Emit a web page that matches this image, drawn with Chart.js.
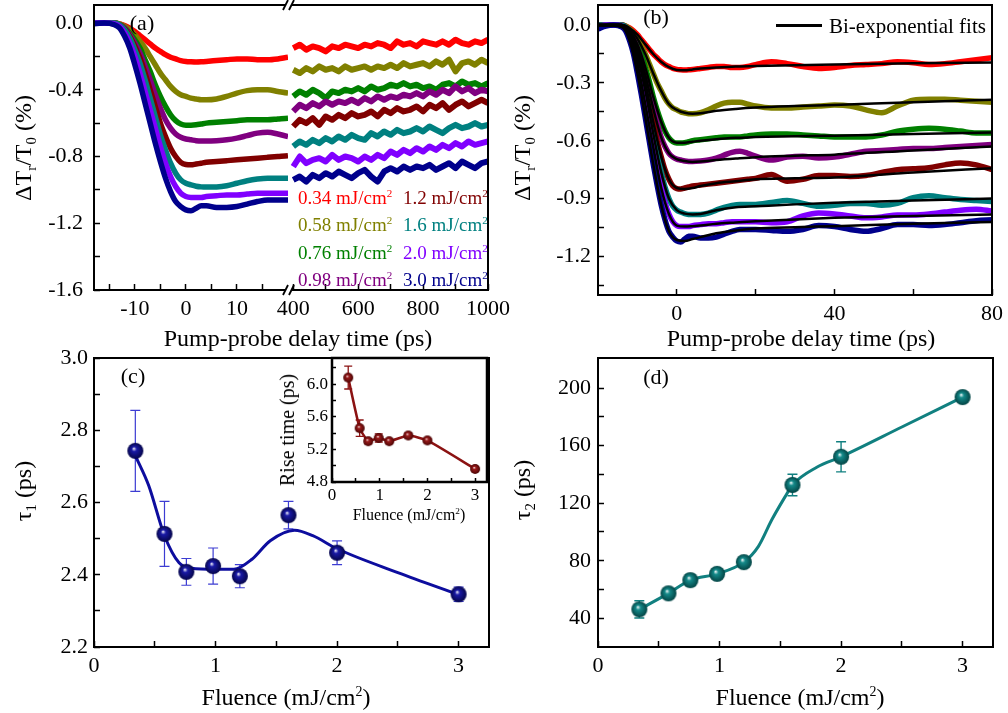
<!DOCTYPE html>
<html>
<head>
<meta charset="utf-8">
<script src="https://cdn.jsdelivr.net/npm/chart.js@4.4.1/dist/chart.umd.min.js"></script>
<style>
  body { margin: 0; background: #fff; }
  #page { position: relative; width: 1008px; height: 713px; overflow: hidden; font-family: 'Liberation Serif', 'Times New Roman', serif; }
  canvas { position: absolute; left: 0; top: 0; }
  .t { position: absolute; white-space: nowrap; line-height: 1; transform: translate(-50%, -50%); }
  .t.v { transform: translate(-50%, -50%) rotate(-90deg); }
  .t.l { transform: translate(0, -50%); }
  .t sub { font-size: 0.62em; vertical-align: -0.32em; }
  .t sup { font-size: 0.58em; vertical-align: 0.62em; }
  .key { position: absolute; height: 3px; background: #000; }
</style>
</head>
<body>
<div id="page">
  <canvas id="aLeft" width="1008" height="713"></canvas>
  <canvas id="aRight" width="1008" height="713"></canvas>
  <canvas id="b" width="1008" height="713"></canvas>
  <canvas id="c" width="1008" height="713"></canvas>
  <canvas id="cInset" width="1008" height="713"></canvas>
  <canvas id="d" width="1008" height="713"></canvas>
</div>
<script>
// pump fluences (mJ/cm2)
const fluence = [0.34, 0.58, 0.76, 0.98, 1.2, 1.6, 2.0, 3.0];
const fluenceText = ['0.34', '0.58', '0.76', '0.98', '1.2', '1.6', '2.0', '3.0'];

// transient reflectivity, short delays (ps) and dTr/T0 (%)
const delay = [-20, -18, -16, -14, -13, -12, -11, -10, -9, -8, -7, -6, -5, -4, -3, -2, -1, 0, 1, 2, 3, 4,
  6, 8, 10, 12, 14, 16, 18, 20, 24, 28, 32, 36, 40, 44, 48, 52, 56, 60, 64, 68, 72, 76, 80];
const tr034 = [0, 0, 0, 0, -0.005, -0.015, -0.03, -0.05, -0.075, -0.10, -0.125, -0.15, -0.17, -0.19, -0.205, -0.215, -0.225, -0.23, -0.232, -0.233, -0.232, -0.23,
  -0.225, -0.22, -0.215, -0.215, -0.22, -0.22, -0.215, -0.205, -0.19, -0.20, -0.215, -0.225, -0.22, -0.21, -0.205, -0.20, -0.19, -0.195, -0.205, -0.20, -0.19, -0.18, -0.17];
const tr058 = [0, 0, 0, 0, -0.005, -0.02, -0.04, -0.07, -0.11, -0.15, -0.20, -0.25, -0.30, -0.34, -0.38, -0.41, -0.43, -0.44, -0.45, -0.455, -0.46, -0.46,
  -0.455, -0.44, -0.42, -0.405, -0.40, -0.40, -0.41, -0.42, -0.43, -0.43, -0.425, -0.42, -0.415, -0.42, -0.44, -0.455, -0.42, -0.39, -0.385, -0.385, -0.39, -0.395, -0.40];
const tr076 = [0, 0, 0, 0, -0.01, -0.03, -0.06, -0.10, -0.15, -0.22, -0.29, -0.37, -0.44, -0.50, -0.55, -0.585, -0.605, -0.612, -0.612, -0.61, -0.605, -0.60,
  -0.595, -0.59, -0.585, -0.58, -0.58, -0.58, -0.575, -0.57, -0.565, -0.565, -0.57, -0.575, -0.58, -0.58, -0.58, -0.57, -0.55, -0.54, -0.535, -0.54, -0.55, -0.56, -0.56];
const tr098 = [0, 0, 0, 0, -0.01, -0.03, -0.07, -0.12, -0.18, -0.26, -0.34, -0.43, -0.51, -0.58, -0.63, -0.665, -0.685, -0.695, -0.70, -0.705, -0.707, -0.707,
  -0.705, -0.70, -0.69, -0.675, -0.66, -0.655, -0.665, -0.68, -0.70, -0.685, -0.68, -0.69, -0.685, -0.67, -0.655, -0.65, -0.645, -0.64, -0.64, -0.635, -0.63, -0.625, -0.62];
const tr12 = [0, 0, 0, 0, -0.01, -0.035, -0.08, -0.14, -0.21, -0.30, -0.40, -0.50, -0.60, -0.68, -0.75, -0.80, -0.835, -0.848, -0.85, -0.845, -0.84, -0.835,
  -0.83, -0.825, -0.82, -0.815, -0.81, -0.805, -0.80, -0.795, -0.775, -0.81, -0.80, -0.78, -0.78, -0.785, -0.78, -0.765, -0.75, -0.745, -0.74, -0.725, -0.715, -0.725, -0.75];
const tr16 = [0, 0, 0, 0, -0.01, -0.04, -0.09, -0.16, -0.24, -0.34, -0.45, -0.56, -0.67, -0.76, -0.84, -0.90, -0.94, -0.96, -0.97, -0.978, -0.982, -0.983,
  -0.982, -0.975, -0.96, -0.945, -0.935, -0.93, -0.93, -0.93, -0.92, -0.91, -0.925, -0.94, -0.935, -0.925, -0.925, -0.935, -0.925, -0.895, -0.885, -0.895, -0.905, -0.91, -0.915];
const tr20 = [-0.01, 0, 0, -0.005, -0.02, -0.06, -0.12, -0.20, -0.30, -0.41, -0.52, -0.63, -0.74, -0.84, -0.92, -0.98, -1.02, -1.04, -1.045, -1.045, -1.045, -1.04,
  -1.035, -1.03, -1.03, -1.025, -1.02, -1.02, -1.02, -1.02, -1.025, -1.02, -0.99, -0.975, -0.98, -0.99, -1.0, -0.995, -0.985, -0.985, -0.98, -0.97, -0.96, -0.955, -0.965];
const tr30 = [-0.02, -0.005, 0, -0.01, -0.03, -0.08, -0.15, -0.25, -0.36, -0.48, -0.60, -0.72, -0.83, -0.93, -1.01, -1.07, -1.10, -1.12, -1.125, -1.11, -1.095, -1.095,
  -1.105, -1.105, -1.10, -1.085, -1.07, -1.06, -1.06, -1.06, -1.065, -1.07, -1.06, -1.04, -1.045, -1.06, -1.07, -1.055, -1.035, -1.035, -1.04, -1.035, -1.025, -1.015, -1.01];

// bi-exponential fits
const fitDelay = [-20, -14, -12, -10, -8, -6, -4, -2, 0, 2, 4, 6, 10, 15, 20, 30, 40, 60, 80];
const fit034 = [0, 0, -0.015, -0.05, -0.10, -0.15, -0.19, -0.218, -0.233, -0.235, -0.23, -0.225, -0.22, -0.215, -0.212, -0.208, -0.204, -0.198, -0.194];
const fit058 = [0, 0, -0.02, -0.07, -0.15, -0.25, -0.34, -0.41, -0.44, -0.455, -0.46, -0.458, -0.445, -0.435, -0.428, -0.42, -0.414, -0.40, -0.388];
const fit076 = [0, 0, -0.03, -0.10, -0.22, -0.37, -0.50, -0.585, -0.61, -0.61, -0.605, -0.60, -0.592, -0.585, -0.58, -0.577, -0.574, -0.565, -0.557];
const fit098 = [0, 0, -0.03, -0.12, -0.26, -0.43, -0.58, -0.665, -0.695, -0.705, -0.71, -0.708, -0.70, -0.692, -0.685, -0.678, -0.672, -0.65, -0.63];
const fit12 = [0, 0, -0.035, -0.14, -0.30, -0.50, -0.68, -0.80, -0.845, -0.85, -0.845, -0.835, -0.82, -0.81, -0.80, -0.795, -0.79, -0.765, -0.742];
const fit16 = [0, 0, -0.04, -0.16, -0.34, -0.56, -0.76, -0.90, -0.96, -0.978, -0.982, -0.98, -0.96, -0.945, -0.94, -0.93, -0.922, -0.91, -0.90];
const fit20 = [0, -0.005, -0.06, -0.20, -0.41, -0.63, -0.84, -0.98, -1.04, -1.045, -1.043, -1.04, -1.03, -1.024, -1.018, -1.008, -1.0, -0.99, -0.983];
const fit30 = [0, -0.01, -0.08, -0.25, -0.48, -0.72, -0.93, -1.07, -1.115, -1.12, -1.11, -1.10, -1.08, -1.065, -1.055, -1.048, -1.043, -1.03, -1.022];

// long delays (ps)
const delayLong = [400, 420, 440, 460, 480, 500, 520, 540, 560, 580, 600, 620, 640, 660, 680, 700, 720, 740, 760, 780, 800, 820, 840, 860, 880, 900, 920, 940, 960, 980, 1000];
const long034 = [-0.15, -0.13, -0.16, -0.14, -0.15, -0.17, -0.14, -0.15, -0.13, -0.14, -0.15, -0.13, -0.14, -0.12, -0.13, -0.15, -0.11, -0.13, -0.12, -0.14, -0.11, -0.12, -0.13, -0.11, -0.13, -0.10, -0.12, -0.13, -0.11, -0.12, -0.10];
const long058 = [-0.28, -0.30, -0.27, -0.29, -0.26, -0.28, -0.27, -0.29, -0.26, -0.28, -0.27, -0.26, -0.28, -0.26, -0.27, -0.25, -0.27, -0.24, -0.26, -0.25, -0.24, -0.26, -0.23, -0.25, -0.22, -0.29, -0.24, -0.23, -0.25, -0.22, -0.24];
const long076 = [-0.44, -0.41, -0.43, -0.40, -0.42, -0.45, -0.41, -0.42, -0.40, -0.41, -0.39, -0.41, -0.38, -0.40, -0.39, -0.37, -0.38, -0.36, -0.38, -0.37, -0.39, -0.38, -0.40, -0.37, -0.36, -0.38, -0.35, -0.37, -0.36, -0.38, -0.36];
const long098 = [-0.53, -0.49, -0.51, -0.48, -0.50, -0.47, -0.49, -0.47, -0.48, -0.46, -0.48, -0.45, -0.47, -0.44, -0.46, -0.44, -0.45, -0.43, -0.44, -0.42, -0.44, -0.41, -0.43, -0.40, -0.42, -0.38, -0.41, -0.39, -0.42, -0.40, -0.41];
const long12 = [-0.62, -0.58, -0.60, -0.57, -0.61, -0.56, -0.58, -0.55, -0.57, -0.54, -0.56, -0.55, -0.53, -0.56, -0.52, -0.54, -0.51, -0.53, -0.52, -0.50, -0.53, -0.49, -0.51, -0.48, -0.52, -0.49, -0.47, -0.50, -0.48, -0.46, -0.48];
const long16 = [-0.74, -0.71, -0.73, -0.70, -0.72, -0.69, -0.71, -0.68, -0.70, -0.67, -0.69, -0.70, -0.66, -0.68, -0.65, -0.67, -0.64, -0.66, -0.65, -0.63, -0.65, -0.62, -0.64, -0.66, -0.63, -0.61, -0.63, -0.62, -0.60, -0.62, -0.61];
const long20 = [-0.86, -0.80, -0.84, -0.82, -0.81, -0.83, -0.79, -0.82, -0.80, -0.81, -0.83, -0.80, -0.82, -0.79, -0.81, -0.77, -0.79, -0.76, -0.78, -0.75, -0.77, -0.74, -0.76, -0.73, -0.75, -0.72, -0.74, -0.71, -0.73, -0.72, -0.71];
const long30 = [-0.94, -0.92, -0.95, -0.91, -0.93, -0.90, -0.92, -0.89, -0.91, -0.93, -0.90, -0.88, -0.92, -0.95, -0.89, -0.87, -0.89, -0.86, -0.88, -0.86, -0.87, -0.85, -0.88, -0.86, -0.84, -0.87, -0.83, -0.85, -0.87, -0.84, -0.83];

// fitted time constants vs fluence
const tau1 = [2.743, 2.513, 2.408, 2.424, 2.396, 2.565, 2.461, 2.346];
const tau1Err = [0.112, 0.09, 0.037, 0.05, 0.032, 0.038, 0.033, 0.02];
const tau1CurveX = [0.34, 0.45, 0.58, 0.7, 0.8, 1.0, 1.15, 1.3, 1.45, 1.65, 1.8, 2.0, 2.5, 3.0];
const tau1CurveY = [2.73, 2.647, 2.508, 2.433, 2.418, 2.415, 2.415, 2.443, 2.494, 2.523, 2.508, 2.472, 2.406, 2.345];
const riseTime = [6.08, 5.46, 5.30, 5.34, 5.30, 5.37, 5.31, 4.96];
const riseErr = [0.14, 0.10, 0.03, 0.05, 0.02, 0.03, 0.02, 0.01];
const tau2 = [46.2, 57.3, 66.5, 70.9, 79, 132.7, 152.3, 193.8];
const tau2Err = [6, 3, 4, 2.5, 2, 7.5, 10.5, 2];
const tau2CurveX = [0.34, 0.58, 0.76, 0.98, 1.2, 1.32, 1.43, 1.54, 1.6, 1.8, 2.0, 2.5, 3.0];
const tau2CurveY = [46.2, 57.3, 66.5, 70.9, 79, 90, 108.5, 124.6, 132.7, 145, 152.3, 173, 193.8];

// axis ticks (major labelled, minor unlabelled)
const delayTicks = [-10, 0, 10], delayMinor = [-15, -5, 5, 15];
const longTicks = [400, 600, 800, 1000], longMinor = [500, 700, 900];
const dTaTicks = [-1.6, -1.2, -0.8, -0.4, 0], dTaMinor = [-1.4, -1.0, -0.6, -0.2];
const delayBTicks = [0, 40, 80], delayBMinor = [20, 60];
const dTbTicks = [-1.2, -0.9, -0.6, -0.3, 0], dTbMinor = [-1.35, -1.05, -0.75, -0.45, -0.15];
const fluenceTicks = [0, 1, 2, 3], fluenceMinor = [0.5, 1.5, 2.5];
const tau1Ticks = [2.2, 2.4, 2.6, 2.8, 3.0], tau1Minor = [2.3, 2.5, 2.7, 2.9];
const riseTicks = [4.8, 5.2, 5.6, 6.0], riseMinor = [5.0, 5.4, 5.8, 6.2];
const tau2Ticks = [40, 80, 120, 160, 200], tau2Minor = [60, 100, 140, 180];

const traces = [tr034, tr058, tr076, tr098, tr12, tr16, tr20, tr30];
const fits = [fit034, fit058, fit076, fit098, fit12, fit16, fit20, fit30];
const longTraces = [long034, long058, long076, long098, long12, long16, long20, long30];
const colors = ['#ff0000', '#808000', '#008000', '#800080', '#800000', '#008080', '#8000ff', '#00008c'];

Chart.defaults.font.family = "'Liberation Serif', 'Times New Roman', serif";
Chart.defaults.color = '#000';

const xy = (xs, ys) => xs.map((x, i) => ({ x, y: ys[i] }));
const isMajor = (list, v) => list.some(m => Math.abs(m - v) < 1e-9);

// box around the plot area, side by side
const framePlugin = {
  id: 'frame',
  beforeDraw(chart, args, o) {
    if (!o.fill) return;
    const a = chart.chartArea;
    chart.ctx.save();
    chart.ctx.fillStyle = o.fill;
    chart.ctx.fillRect(a.left, a.top, a.right - a.left, a.bottom - a.top);
    chart.ctx.restore();
  },
  afterDraw(chart, args, o) {
    if (!o.sides) return;
    const { left, top, right, bottom } = chart.chartArea;
    const ctx = chart.ctx;
    ctx.save();
    ctx.strokeStyle = '#000';
    ctx.lineWidth = o.width || 2;
    ctx.lineCap = 'square';
    ctx.beginPath();
    if (o.sides.includes('t')) { ctx.moveTo(left, top); ctx.lineTo(right, top); }
    if (o.sides.includes('b')) { ctx.moveTo(left, bottom); ctx.lineTo(right, bottom); }
    if (o.sides.includes('l')) { ctx.moveTo(left, top); ctx.lineTo(left, bottom); }
    if (o.sides.includes('r')) { ctx.moveTo(right, top); ctx.lineTo(right, bottom); }
    ctx.stroke();
    ctx.restore();
  }
};

// "//" marks where the delay axis is broken
const breakPlugin = {
  id: 'axisBreak',
  afterDraw(chart, args, o) {
    if (!o.show) return;
    const { left, top, bottom } = chart.chartArea;
    const ctx = chart.ctx;
    ctx.save();
    [top, bottom].forEach(y => {
      ctx.fillStyle = '#fff';
      ctx.fillRect(left - 4, y - 2, 6, 4);
      ctx.strokeStyle = '#000';
      ctx.lineWidth = 1.8;
      ctx.beginPath();
      ctx.moveTo(left - 7, y + 5); ctx.lineTo(left - 2, y - 5);
      ctx.moveTo(left - 1, y + 5); ctx.lineTo(left + 4, y - 5);
      ctx.stroke();
    });
    ctx.restore();
  }
};

// vertical error bars with caps
const errorPlugin = {
  id: 'errorBars',
  beforeDatasetsDraw(chart, args, o) {
    if (!o.errors) return;
    const ctx = chart.ctx;
    const ys = chart.scales.y, xs = chart.scales.x;
    const pts = chart.data.datasets[o.dataset].data;
    ctx.save();
    ctx.strokeStyle = o.color;
    ctx.lineWidth = o.width;
    ctx.beginPath();
    pts.forEach((p, i) => {
      const x = xs.getPixelForValue(p.x);
      const y1 = ys.getPixelForValue(p.y + o.errors[i]);
      const y2 = ys.getPixelForValue(p.y - o.errors[i]);
      ctx.moveTo(x, y1); ctx.lineTo(x, y2);
      ctx.moveTo(x - o.cap, y1); ctx.lineTo(x + o.cap, y1);
      ctx.moveTo(x - o.cap, y2); ctx.lineTo(x + o.cap, y2);
    });
    ctx.stroke();
    ctx.restore();
  }
};

Chart.register(framePlugin, breakPlugin, errorPlugin);

function axis(o) {
  return {
    type: 'linear', min: o.min, max: o.max, display: o.display !== false,
    afterBuildTicks: s => { s.ticks = o.major.concat(o.minor).sort((a, b) => a - b).map(v => ({ value: v })); },
    afterFit: s => {
      if (s.isHorizontal()) s.height = o.fit; else s.width = o.fit;
      s.paddingLeft = s.paddingRight = s.paddingTop = s.paddingBottom = 0;
    },
    ticks: {
      autoSkip: false, maxRotation: 0, padding: o.pad, font: { size: o.size || 22 }, color: '#000',
      callback: v => isMajor(o.major, v) ? o.fmt(v) : ''
    },
    grid: { drawOnChartArea: false, drawTicks: true, tickLength: o.tick || -6, tickColor: '#000', tickWidth: 1.5 },
    border: { display: false }
  };
}

function plot(id, box, yW, xH, scales, datasets, plugins) {
  return new Chart(document.getElementById(id), {
    type: 'line',
    data: { datasets },
    options: {
      responsive: false, animation: false, devicePixelRatio: 1, events: [],
      layout: { padding: { left: box.l - yW, top: box.t, right: 1008 - box.r, bottom: 713 - box.b - xH } },
      scales,
      plugins: Object.assign({ legend: { display: false }, tooltip: { enabled: false } }, plugins)
    }
  });
}

function sphere(base, dark, r) {
  const c = document.createElement('canvas');
  const s = 2 * r + 2;
  c.width = c.height = s;
  const g = c.getContext('2d');
  const m = s / 2;
  const grad = g.createRadialGradient(m - r * 0.2, m - r * 0.3, 0, m, m, r);
  grad.addColorStop(0, '#ffffff');
  grad.addColorStop(0.3, base);
  grad.addColorStop(1, dark);
  g.fillStyle = grad;
  g.beginPath();
  g.arc(m, m, r, 0, Math.PI * 2);
  g.fill();
  return c;
}

const f1 = v => v.toFixed(1);
const f0 = v => String(Math.round(v));

// (a) short delays
plot('aLeft', { l: 94, t: 5, r: 288, b: 290 }, 94, 40, {
  x: axis({ min: -18, max: 20, major: delayTicks, minor: delayMinor, fmt: f0, fit: 40, pad: 12 }),
  y: axis({ min: -1.6, max: 0.108, major: dTaTicks, minor: dTaMinor, fmt: f1, fit: 94, pad: 17 })
}, traces.map((arr, i) => ({
  data: xy(delay, arr), borderColor: colors[i], borderWidth: 5.5, pointRadius: 0,
  cubicInterpolationMode: 'monotone', order: 7 - i
})), { frame: { sides: 'tlb', width: 2 } });

// (a) long delays
plot('aRight', { l: 290, t: 5, r: 488, b: 290 }, 0, 40, {
  x: axis({ min: 390, max: 1000, major: longTicks, minor: longMinor, fmt: f0, fit: 40, pad: 12 }),
  y: { type: 'linear', display: false, min: -1.6, max: 0.108 }
}, longTraces.map((arr, i) => ({
  data: xy(delayLong, arr), borderColor: colors[i], borderWidth: 6, pointRadius: 0,
  tension: 0, borderJoinStyle: 'round', order: 7 - i
})), { frame: { sides: 'trb', width: 2 }, axisBreak: { show: true } });

// (b) data with bi-exponential fits
plot('b', { l: 598, t: 5, r: 992, b: 295 }, 80, 40, {
  x: axis({ min: -20, max: 80, major: delayBTicks, minor: delayBMinor, fmt: f0, fit: 40, pad: 12 }),
  y: axis({ min: -1.4, max: 0.104, major: dTbTicks, minor: dTbMinor, fmt: f1, fit: 80, pad: 13 })
}, traces.map((arr, i) => ({
  data: xy(delay, arr), borderColor: colors[i], borderWidth: 5.5, pointRadius: 0,
  cubicInterpolationMode: 'monotone', order: 8 - i
})).concat(fits.map(arr => ({
  data: xy(fitDelay, arr), borderColor: '#000', borderWidth: 2.5, pointRadius: 0,
  cubicInterpolationMode: 'monotone', order: 0
}))), { frame: { sides: 'tlbr', width: 2 } });

// (c) tau1
plot('c', { l: 94, t: 358, r: 489, b: 647 }, 94, 40, {
  x: axis({ min: 0, max: 3.25, major: fluenceTicks, minor: fluenceMinor, fmt: f0, fit: 40, pad: 12 }),
  y: axis({ min: 2.2, max: 3.0, major: tau1Ticks, minor: tau1Minor, fmt: f1, fit: 94, pad: 12 })
}, [
  { data: xy(tau1CurveX, tau1CurveY), borderColor: '#0d0d9e', borderWidth: 3, pointRadius: 0, cubicInterpolationMode: 'monotone', order: 1 },
  { data: xy(fluence, tau1), showLine: false, pointStyle: sphere('#1a1aa6', '#05054a', 8), pointRadius: 8, order: 0 }
], { frame: { sides: 'tlbr', width: 2 }, errorBars: { dataset: 1, errors: tau1Err, color: '#3c3cd2', width: 1.2, cap: 5 } });

// (c) inset: rise time
plot('cInset', { l: 332, t: 358, r: 487, b: 482 }, 60, 26, {
  x: axis({ min: 0, max: 3.25, major: fluenceTicks, minor: fluenceMinor, fmt: f0, fit: 26, pad: 7, size: 17, tick: -4 }),
  y: axis({ min: 4.8, max: 6.32, major: riseTicks, minor: riseMinor, fmt: f1, fit: 60, pad: 8, size: 17, tick: -4 })
}, [
  { data: xy(fluence, riseTime), borderColor: '#8b1212', borderWidth: 2.5, pointStyle: sphere('#9a1a1a', '#4a0505', 5),
    pointRadius: 5, tension: 0.15 }
], { frame: { sides: 'tlbr', width: 2.5, fill: '#fff' }, errorBars: { dataset: 0, errors: riseErr, color: '#8b1212', width: 1.3, cap: 4 } });

// (d) tau2
plot('d', { l: 598, t: 358, r: 993, b: 647 }, 80, 40, {
  x: axis({ min: 0, max: 3.25, major: fluenceTicks, minor: fluenceMinor, fmt: f0, fit: 40, pad: 12 }),
  y: axis({ min: 20, max: 221, major: tau2Ticks, minor: tau2Minor, fmt: f0, fit: 80, pad: 13 })
}, [
  { data: xy(tau2CurveX, tau2CurveY), borderColor: '#118080', borderWidth: 3, pointRadius: 0, cubicInterpolationMode: 'monotone', order: 1 },
  { data: xy(fluence, tau2), showLine: false, pointStyle: sphere('#148a8a', '#034444', 8), pointRadius: 8, order: 0 }
], { frame: { sides: 'tlbr', width: 2 }, errorBars: { dataset: 1, errors: tau2Err, color: '#118080', width: 1.4, cap: 5 } });

// titles, panel letters and keys
const page = document.getElementById('page');
function put(html, x, y, size, cls, color) {
  const d = document.createElement('div');
  d.className = 't' + (cls ? ' ' + cls : '');
  d.style.left = x + 'px';
  d.style.top = y + 'px';
  d.style.fontSize = size + 'px';
  if (color) d.style.color = color;
  d.innerHTML = html;
  page.appendChild(d);
}

const dTTitle = '&Delta;T<sub>r</sub>/T<sub>0</sub> (%)';
const fluenceTitle = 'Fluence (mJ/cm<sup>2</sup>)';
put(dTTitle, 25, 148, 24, 'v');
put(dTTitle, 524, 148, 24, 'v');
put('Pump-probe delay time (ps)', 298, 338, 24);
put('Pump-probe delay time (ps)', 801, 338, 24);
put('&tau;<sub>1</sub> (ps)', 25, 491, 24, 'v');
put('&tau;<sub>2</sub> (ps)', 524, 490, 24, 'v');
put(fluenceTitle, 286, 697, 24);
put(fluenceTitle, 800, 697, 24);
put('Rise time (ps)', 287, 430, 20, 'v');
put(fluenceTitle, 409, 515, 16);
put('(a)', 142, 23, 22);
put('(b)', 656, 17, 22);
put('(c)', 133, 376, 22);
put('(d)', 656, 377, 22);

// fit key in (b)
const keyLine = document.createElement('div');
keyLine.className = 'key';
keyLine.style.left = '776px';
keyLine.style.top = '24px';
keyLine.style.width = '46px';
page.appendChild(keyLine);
put('Bi-exponential fits', 829, 26, 21, 'l');

// fluence key in (a)
fluenceText.forEach((s, i) => {
  const col = i < 4 ? 298 : 403;
  const row = 197 + (i % 4) * 27.3;
  put(s + ' mJ/cm<sup>2</sup>', col, row, 19, 'l', colors[i]);
});
</script>
</body>
</html>
